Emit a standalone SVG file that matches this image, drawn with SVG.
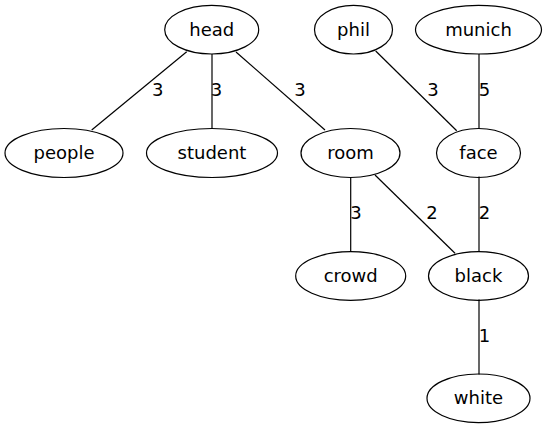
<svg xmlns="http://www.w3.org/2000/svg" width="547" height="429" viewBox="0 0 547 429">
<style>
.n ellipse{fill:none;stroke:#000;stroke-width:1.2}
text{font-family:"DejaVu Sans",sans-serif;font-size:18px;fill:#000;text-anchor:middle}
.e line{stroke:#000;stroke-width:1.2}
</style>
<rect width="547" height="429" fill="#fff"/>
<g id="connectors" class="e">
<line x1="186.7" y1="51.7" x2="91.7" y2="130"/>
<line x1="212" y1="54" x2="212" y2="128.5"/>
<line x1="236" y1="52" x2="325" y2="130"/>
<line x1="375.7" y1="51" x2="456.7" y2="130.7"/>
<line x1="479" y1="54" x2="479" y2="129"/>
<line x1="350.7" y1="177.5" x2="350.7" y2="252"/>
<line x1="375" y1="175" x2="455" y2="253.3"/>
<line x1="479" y1="176.5" x2="479" y2="252"/>
<line x1="479" y1="299.5" x2="479" y2="374.5"/>
<text x="157.7" y="96">3</text>
<text x="216.5" y="96">3</text>
<text x="300" y="96">3</text>
<text x="433" y="96">3</text>
<text x="484.5" y="96">5</text>
<text x="356" y="219">3</text>
<text x="432" y="219">2</text>
<text x="484.5" y="219">2</text>
<text x="484.5" y="342">1</text>
</g>
<g id="head" class="n"><ellipse cx="211.7" cy="29.7" rx="47" ry="24.3"/><text x="211.7" y="35.5">head</text></g>
<g id="phil" class="n"><ellipse cx="353.5" cy="29.7" rx="39" ry="24.3"/><text x="353.5" y="35.5">phil</text></g>
<g id="munich" class="n"><ellipse cx="478.5" cy="29.7" rx="63" ry="24.3"/><text x="478.5" y="35.5">munich</text></g>
<g id="people" class="n"><ellipse cx="64" cy="153" rx="59" ry="24.5"/><text x="64" y="158.5">people</text></g>
<g id="student" class="n"><ellipse cx="212" cy="153" rx="65.5" ry="24.5"/><text x="212" y="158.5">student</text></g>
<g id="room" class="n"><ellipse cx="350.5" cy="153" rx="49.5" ry="24.5"/><text x="350.5" y="158.5">room</text></g>
<g id="face" class="n"><ellipse cx="478.5" cy="153" rx="42" ry="24.5"/><text x="478.5" y="158.5">face</text></g>
<g id="crowd" class="n"><ellipse cx="350.7" cy="276" rx="55" ry="24.3"/><text x="350.7" y="281.5">crowd</text></g>
<g id="black" class="n"><ellipse cx="478.5" cy="276" rx="50" ry="24.3"/><text x="478.5" y="281.5">black</text></g>
<g id="white" class="n"><ellipse cx="478.5" cy="398.3" rx="51.5" ry="24.3"/><text x="478.5" y="403.8">white</text></g>
</svg>
